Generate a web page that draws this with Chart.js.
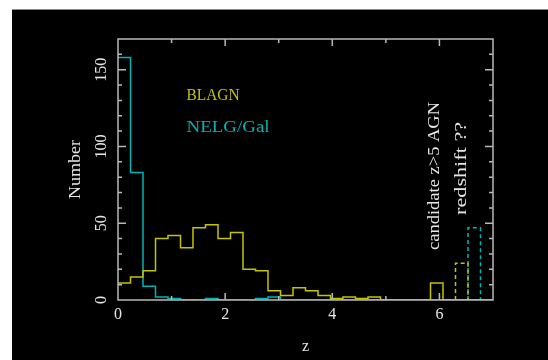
<!DOCTYPE html>
<html>
<head>
<meta charset="utf-8">
<script src="https://cdn.jsdelivr.net/npm/chart.js@4"></script>
<style>
  html, body { margin: 0; padding: 0; background: #fff; }
  #wrap { width: 548px; height: 360px; }
</style>
</head>
<body>
<div id="wrap"><canvas id="zhist" width="548" height="360"></canvas></div>
<script>
// bin edges in z (30 bins from 0 to 7)
const binEdges = [0, 0.2333, 0.4667, 0.7, 0.9333, 1.1667, 1.4, 1.6333, 1.8667, 2.1,
  2.3333, 2.5667, 2.8, 3.0333, 3.2667, 3.5, 3.7333, 3.9667, 4.2, 4.4333,
  4.6667, 4.9, 5.1333, 5.3667, 5.6, 5.8333, 6.0667, 6.3, 6.5333, 6.7667, 7.0];

// counts per bin
const blagnCounts = [11, 15, 19, 40, 42, 34, 47, 49, 40, 44,
  20, 19, 6, 3, 8, 6, 3, 1, 2, 1,
  2, 0, 0, 0, 0, 11, 0, 0, 0, 0];
const nelgCounts = [158, 83, 9, 2, 1, 0, 0, 1, 0, 0,
  0, 1, 2, 0, 0, 0, 0, 0, 0, 0,
  0, 0, 0, 0, 0, 0, 0, 0, 0, 0];

// redshift ?? bins (dashed)
const blagnUnsure = { from: 6.3, to: 6.5333, count: 24 };
const nelgUnsure = { from: 6.5333, to: 6.7667, count: 47 };

const xTickLabels = [0, 2, 4, 6];
const yTickLabels = [0, 50, 100, 150];

const YELLOW = '#c4c400';
const CYAN = '#00b4b4';
const GREY = '#b8b8b8';
const WHITE = '#e6e6e6';
const SERIF = '"Liberation Serif", "DejaVu Serif", serif';

function histPoints(counts) {
  var pts = [];
  for (var i = 0; i < counts.length; i++) {
    pts.push({ x: binEdges[i], y: counts[i] });
  }
  pts.push({ x: binEdges[binEdges.length - 1], y: 0 });
  return pts;
}

function boxPoints(b) {
  return [{ x: b.from, y: 0 }, { x: b.from, y: b.count }, { x: b.to, y: 0 }];
}

// text squeezed/stretched to a given length, optionally turned 90 deg
function fitText(ctx, text, x, y, len, rotated) {
  ctx.save();
  ctx.translate(x, y);
  if (rotated) ctx.rotate(-Math.PI / 2);
  var w = ctx.measureText(text).width;
  ctx.scale(len / w, 1);
  ctx.fillText(text, 0, 0);
  ctx.restore();
}

// black page, frame, ticks and all the text
const pgplotLook = {
  id: 'pgplotLook',
  beforeDraw(chart) {
    const ctx = chart.ctx;
    ctx.save();
    ctx.fillStyle = '#000';
    ctx.fillRect(12, 9, chart.width - 12, chart.height - 9);
    ctx.fillStyle = '#8a8a8a';
    ctx.fillRect(12, 9, chart.width - 12, 1);
    ctx.restore();
  },
  afterDatasetsDraw(chart) {
    const ctx = chart.ctx;
    const a = chart.chartArea;
    const xs = chart.scales.x, ys = chart.scales.y;
    ctx.save();
    ctx.strokeStyle = GREY;
    ctx.lineWidth = 1.5;
    ctx.strokeRect(a.left, a.top, a.right - a.left, a.bottom - a.top);

    ctx.beginPath();
    for (var z = 1; z < 7; z++) {
      var px = xs.getPixelForValue(z);
      var len = z % 2 === 0 ? 7 : 4;
      ctx.moveTo(px, a.bottom); ctx.lineTo(px, a.bottom - len);
      ctx.moveTo(px, a.top); ctx.lineTo(px, a.top + len);
    }
    for (var v = 10; v < 170; v += 10) {
      var py = ys.getPixelForValue(v);
      var l = v % 50 === 0 ? 8 : 4;
      ctx.moveTo(a.left, py); ctx.lineTo(a.left + l, py);
      ctx.moveTo(a.right, py); ctx.lineTo(a.right - l, py);
    }
    ctx.stroke();

    ctx.fillStyle = WHITE;
    ctx.font = '16px ' + SERIF;
    ctx.textAlign = 'center';
    ctx.textBaseline = 'middle';
    xTickLabels.forEach(function (t) {
      ctx.fillText(String(t), xs.getPixelForValue(t), a.bottom + 15);
    });
    yTickLabels.forEach(function (t) {
      ctx.save();
      ctx.translate(a.left - 16, ys.getPixelForValue(t));
      ctx.rotate(-Math.PI / 2);
      ctx.fillText(String(t), 0, 0);
      ctx.restore();
    });

    // axis titles
    ctx.fillText('z', (a.left + a.right) / 2, a.bottom + 47);
    fitText(ctx, 'Number', a.left - 42, ys.getPixelForValue(85), 59, true);

    // legend text
    ctx.textAlign = 'left';
    ctx.fillStyle = YELLOW;
    fitText(ctx, 'BLAGN', xs.getPixelForValue(1.28), ys.getPixelForValue(133), 53, false);
    ctx.fillStyle = CYAN;
    fitText(ctx, 'NELG/Gal', xs.getPixelForValue(1.28), ys.getPixelForValue(112.2), 83, false);

    // note on the high z bins
    ctx.fillStyle = WHITE;
    ctx.textAlign = 'center';
    fitText(ctx, 'candidate z>5 AGN', xs.getPixelForValue(5.92), ys.getPixelForValue(80.8), 148, true);
    fitText(ctx, 'redshift ??', xs.getPixelForValue(6.42), ys.getPixelForValue(85.7), 93, true);
    ctx.restore();
  }
};

new Chart(document.getElementById('zhist'), {
  type: 'line',
  data: {
    datasets: [
      { label: 'BLAGN', data: histPoints(blagnCounts), borderColor: YELLOW },
      { label: 'NELG/Gal', data: histPoints(nelgCounts), borderColor: CYAN },
      { label: 'BLAGN ?', data: boxPoints(blagnUnsure), borderColor: YELLOW, borderDash: [4, 3] },
      { label: 'NELG ?', data: boxPoints(nelgUnsure), borderColor: CYAN, borderDash: [4, 3] }
    ]
  },
  options: {
    responsive: false,
    animation: false,
    layout: { padding: { left: 118, right: 55, top: 39, bottom: 60 } },
    elements: {
      line: { stepped: 'before', tension: 0, borderWidth: 1.5, fill: false },
      point: { radius: 0 }
    },
    scales: {
      x: { type: 'linear', min: 0, max: 7, display: false },
      y: { type: 'linear', min: 0, max: 170, display: false }
    },
    plugins: { legend: { display: false }, tooltip: { enabled: false } }
  },
  plugins: [pgplotLook]
});
</script>
</body>
</html>
